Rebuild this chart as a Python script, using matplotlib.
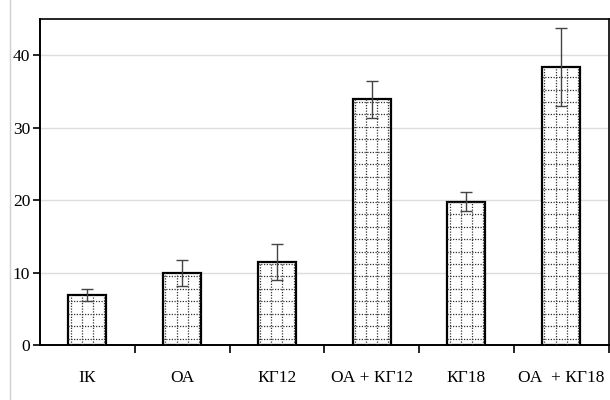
import numpy as np
import matplotlib
matplotlib.use("Agg")
import matplotlib.pyplot as plt
from matplotlib.lines import Line2D

plt.rcParams['font.family'] = ['Liberation Serif', 'DejaVu Serif']

groups = ["ІК", "ОА", "КГ12", "ОА + КГ12", "КГ18", "ОА  + КГ18"]
means = [6.9, 10.0, 11.5, 33.9, 19.8, 38.4]
errors = [0.8, 1.8, 2.5, 2.5, 1.3, 5.4]

fig = plt.figure(figsize=(6.1, 4.0), dpi=100)
ax = fig.add_axes([0.0656, 0.1375, 0.932, 0.815])

x = np.arange(len(groups))
bars = ax.bar(x, means, width=0.4, color='white', edgecolor='black', linewidth=1.6,
              zorder=3)

# dotted grid fill inside each bar
cell = 1.72
for b in bars:
    x0, w, h = b.get_x(), b.get_width(), b.get_height()
    inset = w * 0.06
    xs = np.linspace(x0 + inset, x0 + w - inset, 4)
    ys = np.arange(cell * 0.5, h, cell)
    for xv in xs:
        ln, = ax.plot([xv, xv], [0, h], color='#333333', lw=0.9, ls=(0, (1, 1.2)), zorder=3.5)
        ln.set_clip_path(b)
    for yv in ys:
        ln, = ax.plot([x0, x0 + w], [yv, yv], color='#333333', lw=0.9, ls=(0, (1, 1.2)), zorder=3.5)
        ln.set_clip_path(b)

ax.errorbar(x, means, yerr=errors, fmt='none', ecolor='#444444', elinewidth=1.0,
            capsize=4, capthick=1.0, zorder=4)

ax.set_xlim(-0.5, len(groups) - 0.5)
ax.set_ylim(0, 45)
ax.set_yticks([0, 10, 20, 30, 40])
ax.yaxis.grid(True, color='#dddddd', linewidth=1.0, zorder=0)

# group labels at bar centres, tick marks between groups
ax.set_xticks(x)
ax.set_xticklabels(groups)
ax.set_xticks(np.arange(len(groups)) + 0.5, minor=True)
ax.tick_params(axis='x', which='major', length=0, pad=18, labelsize=12.5)
ax.tick_params(axis='x', which='minor', length=6, width=1.2, direction='out')
ax.tick_params(axis='y', length=5, width=1.2, pad=2, labelsize=12.5)

for side in ['left', 'bottom']:
    ax.spines[side].set_linewidth(1.4)
for side in ['top', 'right']:
    ax.spines[side].set_linewidth(1.2)

# light frame line at the left edge
fig.add_artist(Line2D([0.017, 0.017], [0.0, 1.0], color='#d0d0d0', linewidth=1.0))

fig.savefig("out.png", dpi=100)
